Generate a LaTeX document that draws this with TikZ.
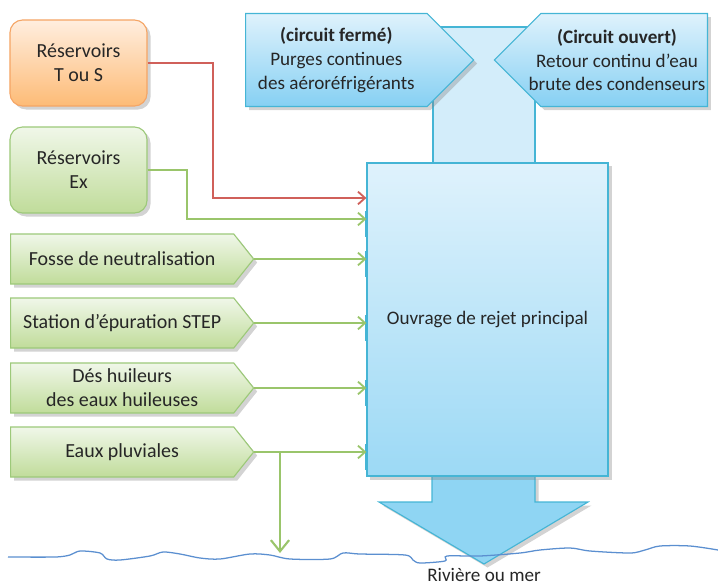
\documentclass[tikz,border=0pt]{standalone}
\usepackage{fontspec}
\setmainfont{Carlito}
\usetikzlibrary{shapes.symbols, arrows.meta, shadows, positioning}

\definecolor{txt}{HTML}{262626}
\definecolor{orgtop}{HTML}{FFEEDF}
\definecolor{orgbot}{HTML}{FDBB76}
\definecolor{orgline}{HTML}{F5A565}
\definecolor{grntop}{HTML}{F0F7E9}
\definecolor{grnbot}{HTML}{C0DC9A}
\definecolor{grnline}{HTML}{9DC97A}
\definecolor{bluetop}{HTML}{DFF2FC}
\definecolor{bluebot}{HTML}{86D0F3}
\definecolor{blueline}{HTML}{45B5D5}
\definecolor{mainbot}{HTML}{9CD9F5}
\definecolor{stemfill}{HTML}{D3EDFA}
\definecolor{headfill}{HTML}{8FD5F3}
\definecolor{flowred}{HTML}{D0605A}
\definecolor{flowgrn}{HTML}{9AC56B}
\definecolor{water}{HTML}{5B8FD0}

\tikzset{
  dropshade/.style={drop shadow={opacity=0.35, shadow xshift=2.5pt, shadow yshift=-2.5pt}},
  tankbox/.style={dropshade, draw, line width=0.8pt, rounded corners=9pt, minimum width=3.425cm, minimum height=2.15cm, align=center, text=txt},
  srcsignal/.style={dropshade, draw=grnline, line width=0.8pt, top color=grntop, bottom color=grnbot, shape=signal, signal to=east, signal pointer angle=103, minimum width=6.075cm, minimum height=1.25cm, align=center, text=txt, anchor=west},
  topsignal/.style={dropshade, draw=blueline, line width=0.8pt, top color=bluetop, bottom color=bluebot, shape=signal, signal pointer angle=90, minimum height=2.325cm, align=center, text=txt, font=\fontsize{13.6}{17}\selectfont},
  flow/.style={line width=1.5pt, -{Straight Barb[length=5pt, width=9pt, line width=1.3pt]}},
}

\begin{document}
\begin{tikzpicture}[x=0.025cm, y=-0.025cm, font=\fontsize{14.2}{17}\selectfont]
    \useasboundingbox (0,0) rectangle (718,586);

    % tube vertical du haut
    \draw[blueline, fill=stemfill, line width=0.8pt] (433,27) rectangle (535,163);

    \node[topsignal, signal to=east, minimum width=5.7cm, anchor=west] (purge) at (245,60) {\textbf{(circuit fermé)}\\Purges continues\\des aéroréfrigérants};
    \node[topsignal, signal to=west, minimum width=5.325cm, anchor=east] (retour) at (708,60) {};
    \node[text=txt, align=center, font=\fontsize{13.6}{17}\selectfont] (retourtxt) at (617,60) {\textbf{(Circuit ouvert)}\\Retour continu d’eau\\brute des condenseurs};

    % fleche de sortie
    \draw[blueline, fill=headfill, line width=0.8pt, dropshade] (432,476) -- (432,502) -- (379,502) -- (484,564) -- (588,502) -- (535,502) -- (535,476) -- cycle;

    \node[dropshade, draw=blueline, line width=0.8pt, top color=bluetop, bottom color=mainbot, minimum width=6.025cm, minimum height=7.825cm, text=txt, font=\fontsize{13.6}{17}\selectfont] (ouvrage) at (487.5,319.5) {Ouvrage de rejet principal};

    % sources
    \node[tankbox, draw=orgline, top color=orgtop, bottom color=orgbot] (tous) at (78.5,63) {Réservoirs\\T ou S};
    \node[tankbox, draw=grnline, top color=grntop, bottom color=grnbot] (ex) at (78.5,170) {Réservoirs\\Ex};
    \node[srcsignal] (fosse) at (10,259) {Fosse de neutralisation};
    \node[srcsignal] (step) at (10,323) {Station d’épuration STEP};
    \node[srcsignal] (deshuil) at (10,388) {Dés huileurs\\des eaux huileuses};
    \node[srcsignal] (pluie) at (10,452) {Eaux pluviales};

    \coordinate (inred) at (ouvrage.west |- 0,198);
    \coordinate (inex) at (ouvrage.west |- 0,219);
    \coordinate (infosse) at (ouvrage.west |- fosse.east);
    \coordinate (instep) at (ouvrage.west |- step.east);
    \coordinate (indes) at (ouvrage.west |- deshuil.east);
    \coordinate (inpluie) at (ouvrage.west |- pluie.east);
    \coordinate (split) at (pluie.east -| 280,0);
    \coordinate (rain) at (280,553);

    \foreach \p in {inex, infosse, instep, indes, inpluie}
        \draw[blueline, line width=1.8pt] ([yshift=6pt]\p) -- ([yshift=-13pt]\p);

    \draw[flow, flowred] (tous.east) -| (inred -| 213,0) -- (inred);
    \draw[flow, flowgrn] (ex.east) -| (inex -| 187,0) -- (inex);
    \draw[flow, flowgrn] (fosse.east) -- (infosse);
    \draw[flow, flowgrn] (step.east) -- (instep);
    \draw[flow, flowgrn] (deshuil.east) -- (indes);
    \draw[flow, flowgrn] (pluie.east) -- (inpluie);
    \draw[flowgrn, line width=1.5pt, -{Straight Barb[length=8pt, width=13pt, line width=1.5pt]}] (split) -- (rain);

    % ligne d'eau
    \draw[water, line width=0.9pt] plot[smooth, tension=0.5] coordinates {(8,557) (55,557) (70,555) (80,551) (100,553) (107,559) (120,560) (150,556) (163,552) (180,554) (200,558) (220,559) (250,554) (270,555) (290,559) (330,559) (343,553) (360,554) (405,555) (413,560) (420,563) (445,561) (447,556) (480,556) (520,553) (540,550) (570,548) (590,551) (630,553) (645,550) (660,546) (690,546) (718,550)};

    \node[text=txt, font=\fontsize{13.6}{17}\selectfont] (mer) at (484,575) {Rivière ou mer};
\end{tikzpicture}
\end{document}
